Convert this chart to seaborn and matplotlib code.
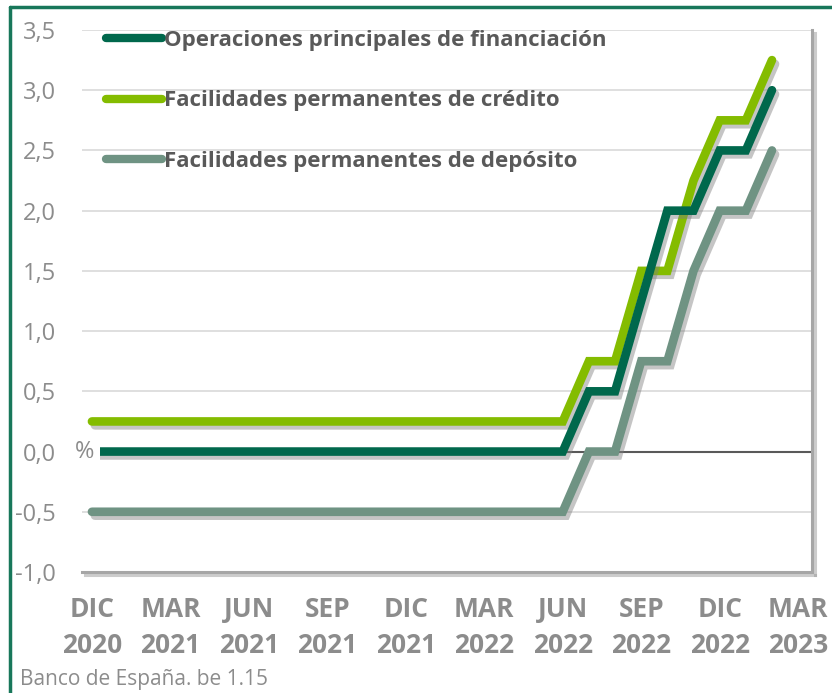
import pandas as pd
import seaborn as sns
import matplotlib.pyplot as plt
import matplotlib.patheffects as pe
from matplotlib.lines import Line2D

# Monthly rates, DIC 2020 .. FEB 2023 (index 0 .. 26)
months = list(range(27))
tick_pos = [0, 3, 6, 9, 12, 15, 18, 21, 24, 27]
tick_labels = ["DIC\n2020", "MAR\n2021", "JUN\n2021", "SEP\n2021", "DIC\n2021",
               "MAR\n2022", "JUN\n2022", "SEP\n2022", "DIC\n2022", "MAR\n2023"]

mro = [0.0, 0.0, 0.0, 0.0, 0.0, 0.0, 0.0, 0.0, 0.0, 0.0, 0.0, 0.0, 0.0, 0.0, 0.0,
       0.0, 0.0, 0.0, 0.0, 0.5, 0.5, 1.25, 2.0, 2.0, 2.5, 2.5, 3.0]
credito = [0.25, 0.25, 0.25, 0.25, 0.25, 0.25, 0.25, 0.25, 0.25, 0.25, 0.25, 0.25, 0.25, 0.25, 0.25,
           0.25, 0.25, 0.25, 0.25, 0.75, 0.75, 1.5, 1.5, 2.25, 2.75, 2.75, 3.25]
deposito = [-0.5, -0.5, -0.5, -0.5, -0.5, -0.5, -0.5, -0.5, -0.5, -0.5, -0.5, -0.5, -0.5, -0.5, -0.5,
            -0.5, -0.5, -0.5, -0.5, 0.0, 0.0, 0.75, 0.75, 1.5, 2.0, 2.0, 2.5]

series = ["Operaciones principales de financiación",
          "Facilidades permanentes de crédito",
          "Facilidades permanentes de depósito"]
colors = ["#00684c", "#84bc00", "#6f9383"]

df = pd.DataFrame({"mes": months, series[0]: mro, series[1]: credito, series[2]: deposito})
long = df.melt(id_vars="mes", var_name="serie", value_name="tipo")

sns.set_theme(style="white")
plt.rcParams["font.family"] = ["Open Sans", "DejaVu Sans"]

fig = plt.figure(figsize=(8.32, 6.93), dpi=100)
ax = fig.add_axes([82 / 832, 1 - 572 / 693, (812 - 82) / 832, (572 - 30) / 693])

shadow = [pe.SimpleLineShadow(offset=(2.2, -2.8), shadow_color="#7f7f7f", alpha=0.45), pe.Normal()]

# draw deposit first, then credit, then main refinancing on top
for name, col in [(series[2], colors[2]), (series[1], colors[1]), (series[0], colors[0])]:
    sns.lineplot(data=long[long["serie"] == name], x="mes", y="tipo", color=col,
                 linewidth=6.2, solid_capstyle="round", solid_joinstyle="miter",
                 ax=ax, legend=False, zorder=3)
for ln in ax.get_lines():
    ln.set_path_effects(shadow)

ax.set_xlim(-0.38, 27.53)
ax.set_ylim(-1.0, 3.5)
ax.set_yticks([-1.0, -0.5, 0.0, 0.5, 1.0, 1.5, 2.0, 2.5, 3.0, 3.5])
ax.set_yticklabels(["-1,0", "-0,5", "0,0", "0,5", "1,0", "1,5", "2,0", "2,5", "3,0", "3,5"])
ax.set_xticks(tick_pos)
ax.set_xticklabels(tick_labels, fontweight="bold", linespacing=1.45)
ax.tick_params(axis="y", length=0, pad=19, labelsize=17, labelcolor="#8c8c8c")
ax.tick_params(axis="x", length=0, pad=17, labelsize=19, labelcolor="#8c8c8c")
ax.set_xlabel("")
ax.set_ylabel("")

ax.grid(axis="y", color="#d9d9d9", linewidth=1.2, zorder=0)
ax.grid(axis="x", visible=False)
ax.axhline(0, color="#595959", linewidth=1.5, zorder=2)

for side in ["left", "top"]:
    ax.spines[side].set_visible(False)
spine_shadow = [pe.SimpleLineShadow(offset=(2, -2), shadow_color="#9a9a9a", alpha=0.5), pe.Normal()]
for side in ["right", "bottom"]:
    ax.spines[side].set_color("#a6a6a6")
    ax.spines[side].set_linewidth(2.2)
    ax.spines[side].set_path_effects(spine_shadow)

ax.text(-0.27, 0.0, "%", ha="center", va="center", fontsize=17, color="#8c8c8c", zorder=5,
        bbox=dict(facecolor="white", edgecolor="none", pad=4))

handles = [Line2D([], [], color=c, linewidth=6, solid_capstyle="round") for c in colors]
leg = ax.legend(handles, series, loc="upper left", bbox_to_anchor=(106 / 832, 1 - 30 / 693),
                bbox_transform=fig.transFigure, frameon=False, handlelength=2.5,
                handletextpad=0.1, labelspacing=1.77, borderaxespad=0, borderpad=0,
                prop={"weight": "bold", "size": 16})
for t in leg.get_texts():
    t.set_color("#595959")

# figure frame (top and left)
fig.add_artist(Line2D([10 / 832, 1.0], [1 - 7 / 693, 1 - 7 / 693], transform=fig.transFigure,
                      color="#18775a", linewidth=2.5))
fig.add_artist(Line2D([10 / 832, 10 / 832], [0.0, 1 - 7 / 693], transform=fig.transFigure,
                      color="#18775a", linewidth=2.5))

fig.text(20 / 832, 1 - 680 / 693, "Banco de España. be 1.15", ha="left", va="center",
         fontsize=15, color="#8c8c8c")

plt.savefig("out.png", dpi=100)
